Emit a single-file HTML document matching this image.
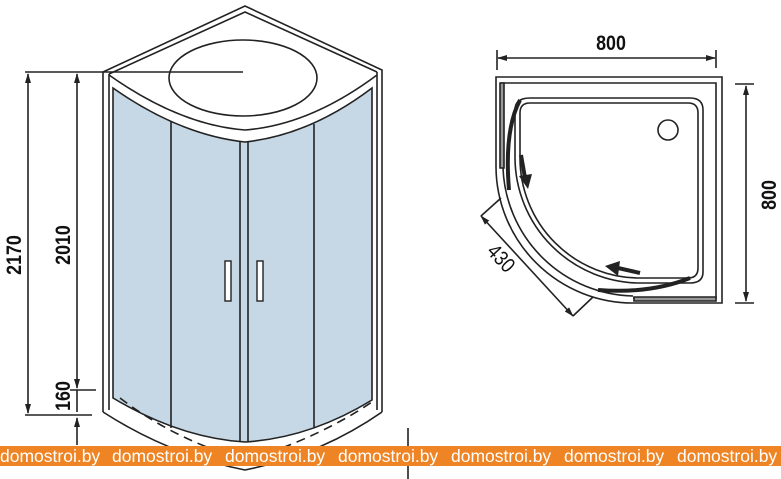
<!DOCTYPE html>
<html><head><meta charset="utf-8"><style>
html,body{margin:0;padding:0;background:#fff;width:781px;height:479px;overflow:hidden}
svg{display:block}
text{font-family:"Liberation Sans",sans-serif}
</style></head><body>
<svg width="781" height="479" viewBox="0 0 781 479" xmlns="http://www.w3.org/2000/svg">
<defs>
<marker id="a" markerWidth="10" markerHeight="10" refX="9" refY="3" orient="auto-start-reverse" markerUnits="userSpaceOnUse"><path d="M0,0 L10,3 L0,6 Z" fill="#222"/></marker>
</defs>
<g fill="none" stroke="#222" stroke-width="1.6">
<path d="M113,88 Q180,135 245,142 Q310,135 372,88 L372,400 Q310,438 245,442 Q180,438 113,398 Z" fill="#c6d8e5" stroke="#222"/>
<line x1="171" y1="122" x2="171" y2="428"/>
<line x1="240" y1="142" x2="240" y2="442"/>
<line x1="248" y1="142" x2="248" y2="442"/>
<line x1="314" y1="124" x2="314" y2="428"/>
<rect x="225" y="261" width="6" height="40" fill="#fff" stroke-width="1.4"/>
<rect x="257" y="261" width="6" height="40" fill="#fff" stroke-width="1.4"/>
<path d="M103,72 L245,6 L382,70 L382,412"/>
<path d="M109,74 L245,12 L377,72"/>
<line x1="103" y1="72" x2="103" y2="412"/>
<line x1="109" y1="74" x2="109" y2="410"/>
<line x1="377" y1="72" x2="377" y2="410"/>
<path d="M109,75 Q180,125 245,130 Q310,125 377,75"/>
<ellipse cx="243" cy="78" rx="74" ry="38"/>
<line x1="25" y1="72" x2="243" y2="72"/>
<path d="M103,412 Q170,455 245,470 Q320,455 382,412"/>
<path d="M120,398 Q175,440 245,460 Q315,440 372,402" stroke-dasharray="9,6"/>
<line x1="28" y1="74" x2="28" y2="413" marker-start="url(#a)" marker-end="url(#a)"/>
<line x1="77" y1="74" x2="77" y2="388" marker-start="url(#a)" marker-end="url(#a)"/>
<line x1="77" y1="390" x2="77" y2="412"/>
<line x1="77" y1="418" x2="77" y2="445" marker-start="url(#a)"/>
<line x1="70" y1="390" x2="96" y2="390"/>
<line x1="25" y1="415" x2="92" y2="415"/>
<line x1="408" y1="428" x2="408" y2="479"/>
<line x1="497" y1="50" x2="497" y2="70"/>
<line x1="716" y1="50" x2="716" y2="68"/>
<line x1="498" y1="58" x2="715" y2="58" marker-start="url(#a)" marker-end="url(#a)"/>
<line x1="735" y1="84" x2="754" y2="84"/>
<line x1="735" y1="303" x2="754" y2="303"/>
<line x1="746" y1="86" x2="746" y2="301" marker-start="url(#a)" marker-end="url(#a)"/>
<path d="M496,167 L496,77 L722,77 L722,303 L633,303 A137,137 0 0 1 496,167"/>
<path d="M501,168 L501,83 L716,83 L716,298 L633,298"/>
<path d="M500,83 L500,168 L504,168 L504,83 Z" fill="#999"/>
<path d="M634,297 L716,297 L716,301 L634,301 Z" fill="#999"/>
<path d="M503,168 A133,133 0 0 0 633,296"/>
<path d="M530,98 L690,98 Q703,98 703,110 L703,272 Q703,283 690,283 L640,283 A126,126 0 0 1 515,158 L515,110 Q515,98 530,98"/>
<path d="M530,103 L688,103 Q698,103 698,113 L698,268 Q698,278 688,278 L640,278 A120,120 0 0 1 520,158 L520,113 Q520,103 530,103"/>
<circle cx="668" cy="130" r="10"/>
<path d="M520,100 Q504,130 509,190" stroke-width="4"/>
<path d="M598,290 Q650,294 690,278" stroke-width="4"/>
<line x1="521" y1="155" x2="525" y2="178" stroke-width="4"/>
<line x1="640" y1="273" x2="618" y2="268" stroke-width="4"/>
<line x1="481" y1="216" x2="573" y2="316" marker-start="url(#a)" marker-end="url(#a)"/>
<line x1="481" y1="216" x2="501" y2="198"/>
<line x1="573" y1="316" x2="593" y2="297"/>
</g>
<path d="M519,176 L532,174 L528,189 Z" fill="#222"/>
<path d="M620,261 L618,276 L605,266 Z" fill="#222"/>
<g font-weight="bold" font-size="21" fill="#111">
<text transform="translate(611,50) scale(0.85,1)" text-anchor="middle">800</text>
<text transform="translate(776,195) rotate(-90) scale(0.85,1)" text-anchor="middle">800</text>
<text transform="translate(21,255) rotate(-90) scale(0.85,1)" text-anchor="middle">2170</text>
<text transform="translate(70,245) rotate(-90) scale(0.85,1)" text-anchor="middle">2010</text>
<text transform="translate(70,396) rotate(-90) scale(0.85,1)" text-anchor="middle">160</text>
<text transform="translate(496,263) rotate(47) scale(0.85,1)" text-anchor="middle" font-weight="normal">430</text>
</g>
<rect x="0" y="446" width="781" height="20" fill="#ef8424"/>
<g fill="#fff" font-size="17.5">
<text x="0" y="462">domostroi.by</text>
<text x="112" y="462">domostroi.by</text>
<text x="225" y="462">domostroi.by</text>
<text x="338" y="462">domostroi.by</text>
<text x="451" y="462">domostroi.by</text>
<text x="564" y="462">domostroi.by</text>
<text x="677" y="462">domostroi.by</text>
</g>
</svg>
</body></html>
